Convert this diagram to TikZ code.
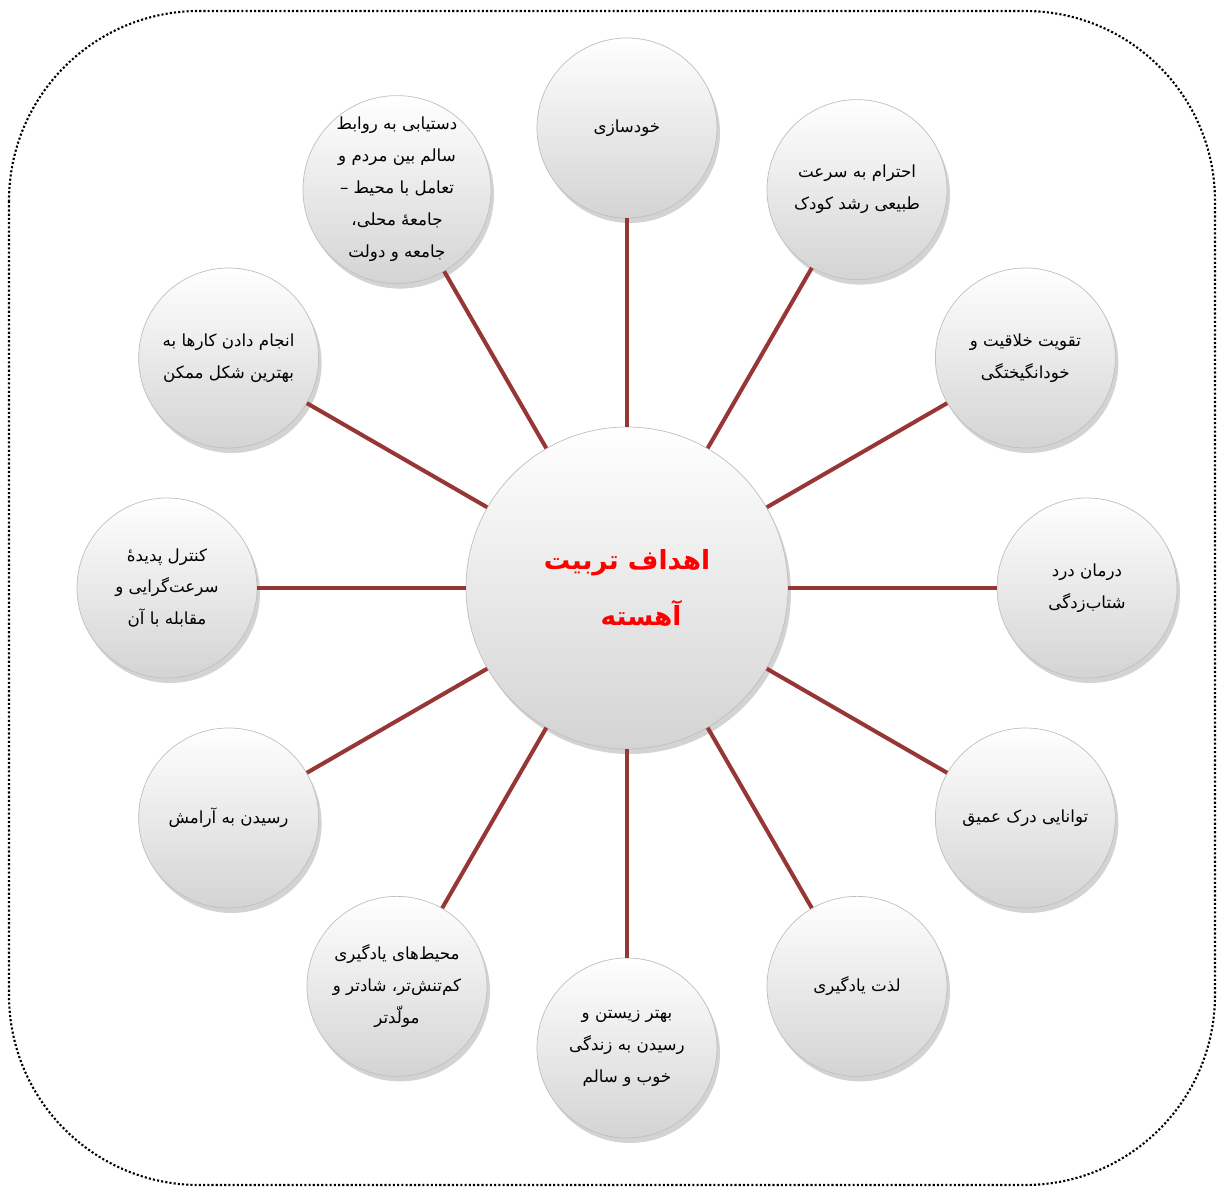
\documentclass[tikz,border=0pt]{standalone}
\usepackage{fontspec}
\usepackage{tikz}
\usetikzlibrary{calc,positioning,shadows}
\TeXXeTstate=1
\newfontfamily\arabicfont[Script=Arabic]{DejaVu Sans}
\newcommand{\rtl}[1]{\beginR #1\endR}
\definecolor{spoke}{RGB}{150,55,53}

\begin{document}
\begin{tikzpicture}
      [line/.style={draw=spoke, line width=2.3pt},
        goal/.style={
          circle,
          draw=black!25, thin,
          top color=white, bottom color=black!17,
          drop shadow={opacity=0.35, shadow xshift=0.6mm, shadow yshift=-1mm},
          minimum size=3.6cm,
          inner sep=0pt,
          align=center,
          font=\arabicfont\fontsize{9.5}{18.2}\selectfont
        },
        hub/.style={
          goal,
          minimum size=6.44cm,
          text=red,
          font=\arabicfont\bfseries\fontsize{15}{32}\selectfont
}]
      \useasboundingbox (-12.54,11.76) rectangle (11.8,-11.98);
      \draw[line width=1.2pt, dash pattern=on 1.2pt off 1.2pt, rounded corners=3.8cm]
        (-12.36,11.54) rectangle (11.76,-11.94);

      \node[hub] (goals) at (0,0) {\rtl{اهداف تربیت}\\\hspace*{0.56cm}\rtl{آهسته}};
      \node[goal] (selfbuild) at (90:9.2) {\rtl{خودسازی}};
      \node[goal] (respect) at (60:9.2) {\rtl{احترام به سرعت}\\\rtl{طبیعی رشد کودک}};
      \node[goal] (creativity) at (30:9.2) {\rtl{تقویت خلاقیت و}\\\rtl{خودانگیختگی}};
      \node[goal] (hurry) at (0:9.2) {\rtl{درمان درد}\\\rtl{شتاب‌زدگی}};
      \node[goal] (insight) at (-30:9.2) {\rtl{توانایی درک عمیق}};
      \node[goal] (joy) at (-60:9.2) {\rtl{لذت یادگیری}};
      \node[goal] (living) at (-90:9.2) {\rtl{بهتر زیستن و}\\\rtl{رسیدن به زندگی}\\\rtl{خوب و سالم}};
      \node[goal] (places) at (240:9.2) {\rtl{محیط‌های یادگیری}\\\rtl{کم‌تنش‌تر، شادتر و}\\\rtl{مولّدتر}};
      \node[goal] (calm) at (210:9.2) {\rtl{رسیدن به آرامش}};
      \node[goal] (control) at (180:9.2) {\rtl{کنترل پدیدهٔ}\\\rtl{سرعت‌گرایی و}\\\rtl{مقابله با آن}};
      \node[goal] (bestway) at (150:9.2) {\rtl{انجام دادن کارها به}\\\rtl{بهترین شکل ممکن}};
      \node[goal] (relations) at (120:9.2) {\rtl{دستیابی به روابط}\\\rtl{سالم بین مردم و}\\\rtl{تعامل با محیط –}\\\rtl{جامعهٔ محلی،}\\\rtl{جامعه و دولت}};

      \draw[line] (goals) -- (selfbuild);
      \draw[line] (goals) -- (respect);
      \draw[line] (goals) -- (creativity);
      \draw[line] (goals) -- (hurry);
      \draw[line] (goals) -- (insight);
      \draw[line] (goals) -- (joy);
      \draw[line] (goals) -- (living);
      \draw[line] (goals) -- (places);
      \draw[line] (goals) -- (calm);
      \draw[line] (goals) -- (control);
      \draw[line] (goals) -- (bestway);
      \draw[line] (goals) -- (relations);
    \end{tikzpicture}
\end{document}
